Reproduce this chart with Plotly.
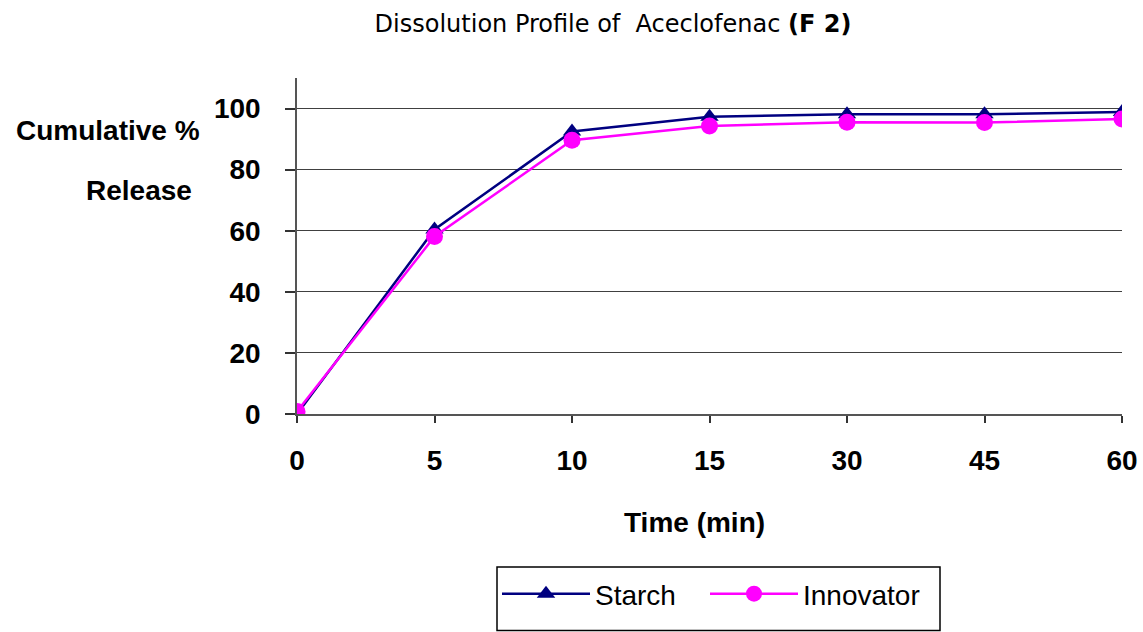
import plotly.graph_objects as go

# Sampling times (min) and cumulative % drug released
time_points = ["0", "5", "10", "15", "30", "45", "60"]
starch = [0, 60.4, 92.5, 97.3, 98.1, 98.1, 98.9]
innovator = [0.8, 58.1, 89.6, 94.3, 95.5, 95.4, 96.6]

fig = go.Figure()
fig.add_trace(go.Scatter(
    x=time_points, y=starch, name="Starch", mode="lines+markers",
    line=dict(color="#000080", width=2.5),
    marker=dict(symbol="triangle-up", size=16, color="#000080"),
    legend="legend",
))
fig.add_trace(go.Scatter(
    x=time_points, y=innovator, name="Innovator", mode="lines+markers",
    line=dict(color="#FF00FF", width=2.5),
    marker=dict(symbol="circle", size=17, color="#FF00FF"),
    legend="legend2",
))

BOLD = dict(size=28, family="Liberation Sans, Arial", weight="bold")
PLOT_L, PLOT_W, PLOT_B, PLOT_H = 297, 825, 414, 336


def px_x(x):
    return (x - PLOT_L) / PLOT_W


def px_y(y):
    return (PLOT_B - y) / PLOT_H


legend_common = dict(
    orientation="h", xanchor="left", yanchor="top", y=px_y(569),
    borderwidth=0, bgcolor="rgba(0,0,0,0)",
    font=dict(size=28, family="Liberation Sans, Arial"),
    itemwidth=88,
)

fig.update_layout(
    width=1143, height=632,
    margin=dict(l=297, r=21, t=78, b=218, autoexpand=False),
    paper_bgcolor="white", plot_bgcolor="white",
    font=dict(family="Liberation Sans, Arial, sans-serif", color="black"),
    title=dict(
        text="Dissolution Profile of  Aceclofenac <b>(F 2)</b>",
        x=613 / 1143, xanchor="center", y=1 - 24 / 632, yanchor="middle",
        font=dict(family="DejaVu Sans, sans-serif", size=24),
    ),
    xaxis=dict(
        type="category", range=[0, 6], automargin=False,
        showline=True, linecolor="#555555", linewidth=1.5,
        ticks="outside", ticklen=7, tickcolor="#333333", tickwidth=1.5,
        ticklabelstandoff=14,
        tickfont=BOLD,
        showgrid=False, zeroline=False,
    ),
    yaxis=dict(
        range=[0, 110], tickvals=[0, 20, 40, 60, 80, 100], automargin=False,
        showline=True, linecolor="#555555", linewidth=1.5,
        ticks="outside", ticklen=10, tickcolor="#333333", tickwidth=1.5,
        ticklabelstandoff=19,
        tickfont=BOLD,
        showgrid=True, gridcolor="#404040", gridwidth=1.2, zeroline=False,
    ),
    legend=dict(x=px_x(497), **legend_common),
    legend2=dict(x=px_x(705), **legend_common),
    showlegend=True,
)

# Frame around the two legend entries
fig.add_shape(type="rect", xref="paper", yref="paper",
              x0=px_x(497), x1=px_x(940), y0=px_y(630.5), y1=px_y(567),
              line=dict(color="black", width=1.5), fillcolor="rgba(0,0,0,0)",
              layer="below")

# Axis captions
fig.add_annotation(text="<b>Time (min)</b>", xref="paper", yref="paper",
                   x=px_x(694), y=px_y(522), showarrow=False,
                   xanchor="center", yanchor="middle", font=dict(size=28))
fig.add_annotation(text="<b>Cumulative %</b>", xref="paper", yref="paper",
                   x=px_x(108), y=px_y(130), showarrow=False,
                   xanchor="center", yanchor="middle", font=dict(size=28))
fig.add_annotation(text="<b>Release</b>", xref="paper", yref="paper",
                   x=px_x(139), y=px_y(190), showarrow=False,
                   xanchor="center", yanchor="middle", font=dict(size=28))

fig.write_html("out.html")
